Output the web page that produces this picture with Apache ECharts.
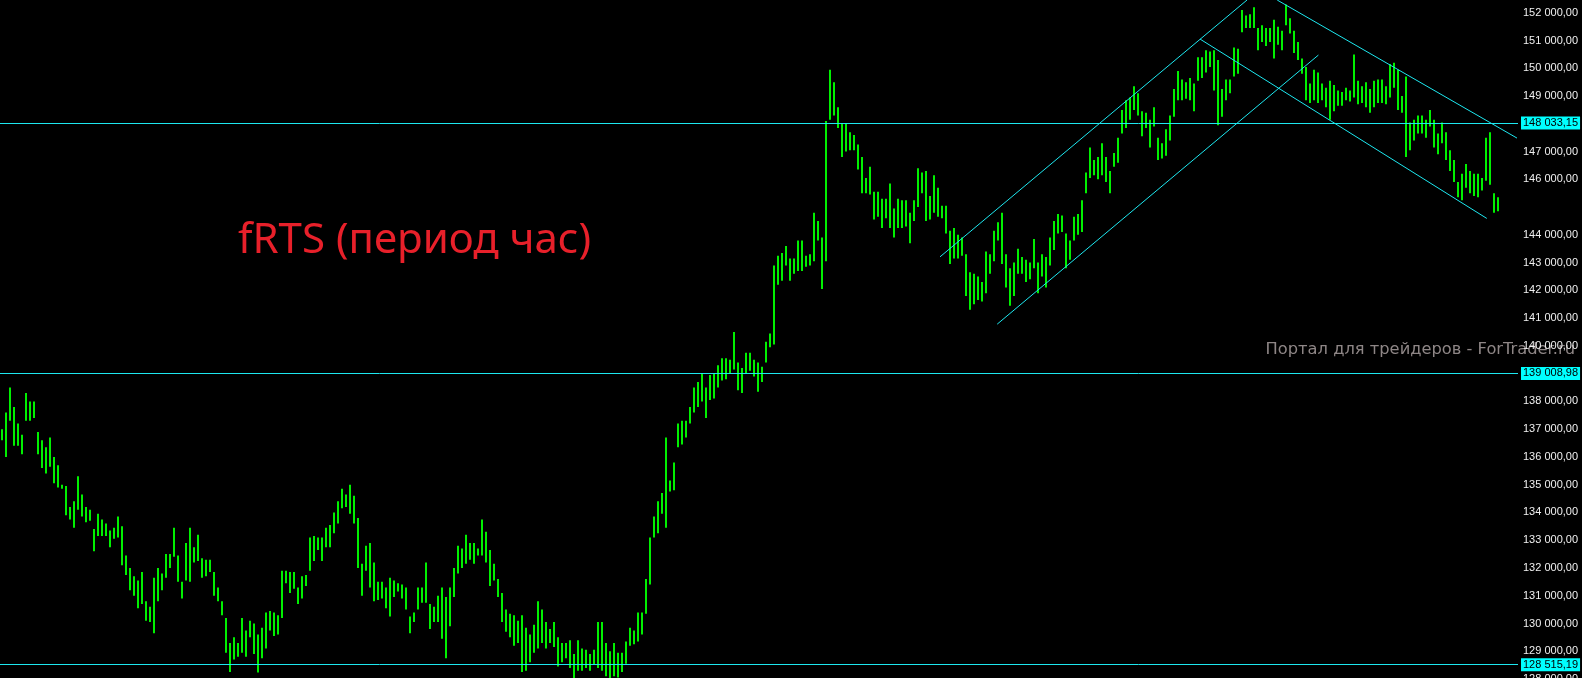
<!DOCTYPE html>
<html>
<head>
<meta charset="utf-8">
<script src="https://cdn.jsdelivr.net/npm/echarts@6/dist/echarts.min.js"></script>
<style>
html, body { margin: 0; padding: 0; background: #000; height: 678px; overflow: hidden; }
#chart { width: 1582px; height: 694px; margin-top: -15px; }
</style>
</head>
<body>
<div id="chart"></div>
<script>
// hourly bars (high / low per bar)
const highs = [
  137000,137600,138500,137800,137200,136800,138300,138000,138000,136900,
  136600,136350,136700,136000,135700,135000,134950,134200,134400,135300,
  134650,134200,134100,133400,133950,133750,133600,133350,133450,133850,
  133500,132450,132000,131700,131550,131850,130800,130600,131650,132000,
  131800,132500,132500,133450,132450,131500,132900,133450,132750,133200,
  132350,132300,132300,131850,131300,130800,130200,129300,129500,129300,
  130200,129750,130100,130000,129600,129850,130400,130450,130400,130300,
  131900,131900,131850,131850,131300,131700,131750,133100,133150,133100,
  133100,133450,133550,134000,134400,134850,134650,135000,134600,133800,
  132150,132800,132900,132200,131500,131500,131300,131650,131550,131450,
  131400,131300,130250,130400,131300,131300,132200,130700,130600,131000,
  131300,130950,131300,132000,132800,132700,133200,132900,132900,132700,
  133750,133300,132650,132150,131600,131100,130500,130350,130300,130100,
  130300,129850,129600,129950,130800,130500,130050,129800,130050,129500,
  129300,129300,129400,128900,129400,129100,129050,128900,129050,130050,
  130050,129300,129000,129300,128950,128950,129350,129850,129750,130400,
  130400,131600,133100,133850,134400,134700,136700,135150,135800,137200,
  137300,137300,137800,138500,138700,139000,138500,138950,139000,139300,
  139550,139550,139500,140500,139400,139200,139750,139750,139500,139400,
  139250,140150,140450,142900,143250,143350,143600,143150,143150,143800,
  143800,143250,143300,144800,144500,143900,148100,149950,149500,148600,
  148000,148000,147700,147600,147250,146800,146050,146450,145550,145550,
  145300,145300,145850,144950,145300,145250,145250,144800,145250,146400,
  146250,146300,145400,146150,145700,145050,145050,144150,144250,144000,
  143900,143300,142650,142600,142500,142300,143400,143300,144150,144450,
  144800,143300,142800,143000,143500,143200,143100,143000,143850,143000,
  143300,143200,143900,144500,144750,144700,144050,143800,144650,144750,
  145250,146250,147150,146700,146800,147300,146800,146300,146950,147500,
  148500,148850,148950,149350,149100,148450,148400,148150,148600,147500,
  147300,147800,148300,149250,149900,149600,149500,149650,149450,150400,
  150400,150650,150600,150650,150300,149250,149600,149600,150750,150700,
  152100,151900,151950,152200,151450,151550,151450,151450,151750,151500,
  151350,152300,151800,151350,150950,150350,150050,149450,149950,149850,
  149450,149300,149550,149400,149200,149150,149300,149200,150500,149550,
  149350,149500,149250,149550,149600,149600,149350,150150,150200,149950,
  149000,149700,148050,148150,148300,148300,148150,148500,148150,147650,
  148050,147700,147050,146700,145900,146200,146550,146300,146200,146200,
  146050,147500,147700,145500,145350
];
const lows = [
  136600,136000,137300,136400,136400,136100,137300,137300,137400,136100,
  135600,135400,135650,135050,134900,134850,133900,133750,133450,134100,
  133850,133650,133700,132600,133150,133150,133150,132750,133050,133100,
  132100,131750,131200,131000,130550,130700,130100,130050,129650,130800,
  131200,131650,132000,132400,131500,130900,131550,131500,132200,132250,
  131650,131700,131850,131000,130800,130300,128950,128250,128700,128800,
  128950,128800,129500,128900,128230,128750,129100,129750,129550,129600,
  130200,131450,131100,131250,130700,130900,131350,131900,132250,132650,
  132250,132750,132750,133250,133600,134150,134200,133950,133600,132000,
  131000,131900,131300,130800,130850,130900,130550,130250,130950,131150,
  130900,130500,129650,130050,130500,130750,130750,129800,130050,130050,
  129450,128750,129900,130950,131800,132000,132150,132300,132150,132450,
  132450,132200,131350,131550,130950,130050,129700,129500,129200,129300,
  128250,128300,128600,128950,129100,129300,129100,129300,129150,128450,
  128600,128750,128400,128000,128300,128300,128400,128300,128500,128400,
  128300,128100,128000,128100,128050,128250,128550,129200,129250,129350,
  129600,130350,131400,133100,133250,133950,133450,134750,134800,136350,
  136450,136700,137200,137600,137800,138000,137400,138050,138100,138500,
  138750,138800,139000,139150,138400,138300,139000,139100,138900,138350,
  138700,139400,139950,140050,142200,142350,142900,142350,142600,142700,
  142700,142850,142900,143050,143800,142050,143050,148150,148300,147850,
  146800,147000,147050,147050,146350,145500,145500,145450,144550,144650,
  144250,144600,144250,143900,144250,144250,144300,143700,144500,145000,
  145500,144500,144550,144800,144650,144600,144050,142950,143150,143150,
  143250,141800,141300,141500,141650,141600,141900,142600,143050,143800,
  142950,142100,141450,141800,142600,142600,142300,142400,142800,141900,
  142500,142100,142900,143450,144050,144100,142800,143100,143800,144000,
  144100,145500,146050,146150,146000,146150,145900,145500,146450,146600,
  147650,147850,148150,148500,148300,147550,147850,147150,147900,146700,
  146750,146850,147400,148250,148850,148850,148900,148850,148450,149550,
  149650,149850,150050,149200,147950,148250,148850,149100,149700,149800,
  151300,151450,151450,151450,150650,150950,150800,150950,150350,150850,
  150650,151550,151250,150550,150300,149800,148850,148750,148850,148750,
  148850,148600,148150,148450,148650,148650,148850,148800,148950,148700,
  148750,148600,148400,148600,148750,148750,148700,148950,149300,148500,
  148400,146800,147050,147400,147650,147650,147500,147900,147150,146900,
  147300,146700,146300,145900,145350,145250,145700,145500,145400,145350,
  145600,145950,145800,144800,144850
];

// horizontal levels and the last price
const levels = [148033.15, 139008.98, 128515.19];
const lastPrice = 145000;

// channel lines: [bar index, price] at both ends
const channelLines = [
  [[234.5, 143207], [311.25, 152458]],
  [[248.8, 140782], [329.1, 150476]],
  [[318.8, 152458], [378.75, 147485]],
  [[299.5, 151053], [371.2, 144591]]
];

const titleText = 'fRTS (период час)';
const watermark = 'Портал для трейдеров - ForTrader.ru';

function fmt(v) {
  const parts = Number(v).toFixed(2).split('.');
  return parts[0].replace(/\B(?=(\d{3})+(?!\d))/g, ' ') + ',' + parts[1];
}

const cyan = '#1de8f0';
const green = '#00f000';
const bars = highs.map((h, i) => [i, lows[i], h]);
const hidden = [148000, 139000, 145000];

const chart = echarts.init(document.getElementById('chart'));

const lineItems = [];
levels.forEach(v => {
  lineItems.push({
    yAxis: v,
    lineStyle: { color: cyan, width: 1, type: 'solid' },
    label: {
      show: true, position: 'end', distance: 3,
      formatter: p => fmt(p.value),
      color: '#000', backgroundColor: '#00ffff',
      fontFamily: 'Liberation Sans', fontSize: 11, padding: [1, 2, 1, 2]
    }
  });
});
lineItems.push({
  yAxis: lastPrice,
  lineStyle: { opacity: 0 },
  label: {
    show: true, position: 'end', distance: 3,
    formatter: p => fmt(p.value),
    color: '#000', backgroundColor: '#00ff00',
    fontFamily: 'Liberation Sans', fontSize: 11, padding: [1, 2, 1, 2]
  }
});
channelLines.forEach(l => {
  lineItems.push([
    { coord: l[0], lineStyle: { color: cyan, width: 1, type: 'solid' }, label: { show: false } },
    { coord: l[1] }
  ]);
});

const option = {
  backgroundColor: '#000000',
  animation: false,
  grid: { left: 0, right: 64, top: 0, bottom: 0, outerBoundsMode: 'none' },
  xAxis: { type: 'value', min: -0.5, max: 379, show: false },
  yAxis: {
    type: 'value', position: 'right',
    min: 128000, max: 153000, interval: 1000,
    splitLine: { show: false },
    axisLine: { show: false },
    axisTick: { show: false },
    axisLabel: {
      margin: 5, color: '#f0f0f0',
      fontFamily: 'Liberation Sans', fontSize: 11,
      formatter: v => hidden.indexOf(v) >= 0 ? '' : fmt(v)
    }
  },
  graphic: [
    {
      type: 'text', x: 238, y: 256,
      style: { text: titleText, fill: '#e8202a', font: '42px "Noto Sans"', verticalAlign: 'middle' }
    },
    {
      type: 'text', x: 1575, y: 365,
      style: { text: watermark, fill: '#8e8686', font: '16.3px "DejaVu Sans"', align: 'right', verticalAlign: 'middle' }
    }
  ],
  series: [{
    type: 'custom',
    data: bars,
    encode: { x: 0, y: [1, 2] },
    clip: true,
    renderItem: function (params, api) {
      const i = api.value(0);
      const lo = api.coord([i, api.value(1)]);
      const hi = api.coord([i, api.value(2)]);
      return {
        type: 'rect',
        shape: { x: Math.round(hi[0]) - 1, y: hi[1], width: 2, height: Math.max(1, lo[1] - hi[1]) },
        style: { fill: green }
      };
    },
    markLine: {
      silent: true,
      symbol: ['none', 'none'],
      label: { show: false },
      data: lineItems
    }
  }]
};
chart.setOption(option);
</script>
</body>
</html>
